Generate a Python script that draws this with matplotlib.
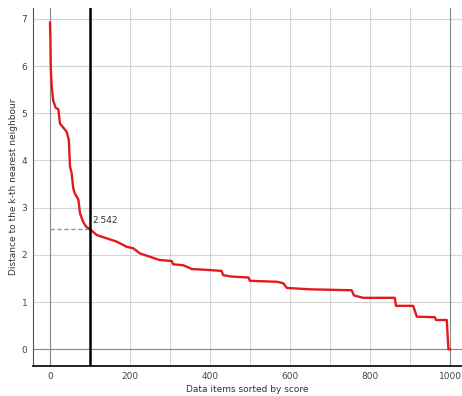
import matplotlib
matplotlib.use('Agg')
import matplotlib.pyplot as plt
import numpy as np

# Distance to the k-th nearest neighbour, items sorted by score
items = [0, 1, 2, 4, 8, 14, 21, 25, 33, 42, 47, 50, 54, 58, 62, 71, 75, 83, 90, 100,
         117, 142, 167, 192, 208, 225, 250, 267, 275, 304, 308, 333, 350, 354, 396, 429,
         433, 454, 496, 500, 567, 583, 592, 650, 754, 760, 783, 862, 865, 908, 917, 962,
         965, 992, 996, 1000]
distance = [6.92, 6.60, 5.95, 5.60, 5.27, 5.12, 5.08, 4.78, 4.70, 4.60, 4.44, 3.87, 3.74,
            3.42, 3.30, 3.17, 2.88, 2.70, 2.60, 2.542, 2.42, 2.35, 2.28, 2.17, 2.14, 2.03,
            1.96, 1.91, 1.89, 1.87, 1.80, 1.78, 1.72, 1.70, 1.68, 1.66, 1.57, 1.54, 1.52,
            1.45, 1.43, 1.40, 1.30, 1.27, 1.25, 1.14, 1.09, 1.09, 0.92, 0.92, 0.69, 0.68,
            0.62, 0.62, 0.0, 0.0]
cutoff_x = 100
cutoff_y = 2.542

fig = plt.figure(figsize=(4.62, 3.96), dpi=100, facecolor='white')
ax = fig.add_axes([0.0714, 0.0758, 0.9286, 0.904])

ax.set_xlim(-42.5, 1030)
ax.set_ylim(-0.354, 7.23)

# grille
ax.set_xticks(np.arange(0, 1001, 200))
ax.set_xticks(np.arange(100, 1000, 200), minor=True)
ax.set_yticks(np.arange(0, 8, 1))
ax.grid(True, which='both', color='#d4d4d4', linewidth=0.8)
ax.set_axisbelow(True)
ax.axvline(0, color='#8a8a8a', linewidth=0.8, zorder=1)
ax.axvline(1000, color='#8a8a8a', linewidth=0.8, zorder=1)
ax.axhline(0, color='#8a8a8a', linewidth=0.8, zorder=1)

# courbe
ax.plot(items, distance, color='#e31a1c', linewidth=1.7, zorder=3)
ax.plot([0, cutoff_x], [cutoff_y, cutoff_y], color='#5aa0d8', linestyle='--',
        linewidth=1.0, dashes=(3, 2), zorder=2)
ax.axvline(cutoff_x, color='black', linewidth=1.8, zorder=4)
ax.text(cutoff_x + 7, cutoff_y + 0.1, '%.3f' % cutoff_y, fontsize=6.5, color='#333333',
        ha='left', va='bottom', zorder=5)

ax.set_xlabel('Data items sorted by score', fontsize=6.5, color='#333333', labelpad=3)
ax.set_ylabel('Distance to the k-th nearest neighbour', fontsize=6.5, color='#333333',
              labelpad=3)

ax.tick_params(which='both', length=0, labelsize=6.5, colors='#444444', pad=4)
ax.spines['top'].set_visible(False)
ax.spines['right'].set_visible(False)
ax.spines['left'].set_color('#555555')
ax.spines['bottom'].set_color('black')
ax.spines['bottom'].set_linewidth(1.2)

plt.savefig('out.png', dpi=100, facecolor='white')
